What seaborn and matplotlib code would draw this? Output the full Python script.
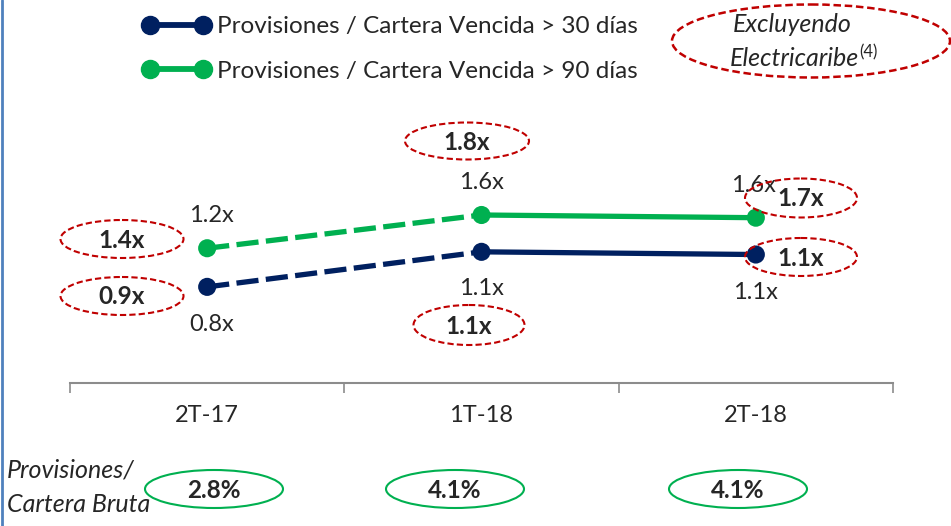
import pandas as pd
import matplotlib.pyplot as plt
import seaborn as sns
from matplotlib.patches import Ellipse
from matplotlib.lines import Line2D

# Datos
periodos = ['2T-17', '1T-18', '2T-18']
prov_30 = [0.76, 1.15, 1.12]
prov_90 = [1.19, 1.56, 1.53]
etiq_30 = ['0.8x', '1.1x', '1.1x']
etiq_90 = ['1.2x', '1.6x', '1.6x']
excl_30 = ['0.9x', '1.1x', '1.1x']
excl_90 = ['1.4x', '1.8x', '1.7x']
prov_bruta = ['2.8%', '4.1%', '4.1%']
series = ['Provisiones / Cartera Vencida > 30 días', 'Provisiones / Cartera Vencida > 90 días']

AZUL = '#002060'
VERDE = '#00B050'
ROJO = '#C00000'

sns.set_style('white')
plt.rcParams['font.family'] = ['Lato', 'DejaVu Sans']

fig = plt.figure(figsize=(9.51, 5.26), dpi=100)
ax = fig.add_axes([70 / 951, 1 - 383 / 526, 823 / 951, 283 / 526])

df = pd.DataFrame({'x': [0, 1, 2], 'p30': prov_30, 'p90': prov_90})
for col, color in [('p30', AZUL), ('p90', VERDE)]:
    # tramo punteado 2T-17 -> 1T-18, tramo solido 1T-18 -> 2T-18
    sns.lineplot(data=df.iloc[0:2], x='x', y=col, color=color, lw=3.8,
                 linestyle=(0, (4.2, 1.4)), ax=ax, zorder=2)
    sns.lineplot(data=df.iloc[1:3], x='x', y=col, color=color, lw=3.8, ax=ax, zorder=2)
    sns.scatterplot(data=df, x='x', y=col, color=color, s=170, edgecolor='none',
                    ax=ax, zorder=3, legend=False)

ax.set_xlim(-0.5, 2.5)
ax.set_ylim(-0.31, 2.84)
ax.set_xlabel('')
ax.set_ylabel('')
ax.set_yticks([])
ax.set_xticks([-0.5, 0.5, 1.5, 2.5])
ax.set_xticklabels([])
ax.tick_params(axis='x', direction='out', length=7, width=1.2, color='#8C8C8C', bottom=True)
for s in ['top', 'left', 'right']:
    ax.spines[s].set_visible(False)
ax.spines['bottom'].set_color('#8C8C8C')
ax.spines['bottom'].set_linewidth(1.5)
for i, p in enumerate(periodos):
    ax.annotate(p, (i, -0.31), xytext=(0, -33), textcoords='offset pixels',
                ha='center', va='center', fontsize=17)

# etiquetas de datos
offs_30 = [(4, -38), (0, -37), (0, -38)]
offs_90 = [(4, 33), (0, 32), (-2, 32)]
for i in range(3):
    ax.annotate(etiq_30[i], (i, prov_30[i]), xytext=offs_30[i], textcoords='offset pixels',
                ha='center', va='center', fontsize=17)
    ax.annotate(etiq_90[i], (i, prov_90[i]), xytext=offs_90[i], textcoords='offset pixels',
                ha='center', va='center', fontsize=17)

# leyenda
handles = [Line2D([], [], color=AZUL, lw=4.2, marker='o', markersize=13),
           Line2D([], [], color=VERDE, lw=4.2, marker='o', markersize=13)]
fig.legend(handles, series, loc='upper left', bbox_to_anchor=(143 / 951, 1 - 16 / 526),
           frameon=False, numpoints=2, handlelength=2.75, handletextpad=0.3,
           labelspacing=0.97, fontsize=17.5, borderaxespad=0, borderpad=0)

# capa de anotaciones en pixeles
ov = fig.add_axes([0, 0, 1, 1], zorder=5)
ov.set_xlim(0, 951)
ov.set_ylim(526, 0)
ov.axis('off')
ov.patch.set_alpha(0)
ov.plot([1.5, 1.5], [0, 526], color='#4F81BD', lw=2)


def ovalo(cx, cy, w, h, txt, color, ls):
    ov.add_patch(Ellipse((cx, cy), w, h, fill=False, edgecolor=color, lw=1.5, linestyle=ls))
    ov.text(cx, cy + 1, txt, ha='center', va='center', fontsize=17.5, fontweight='bold')


punteado = (0, (3, 1.5))
ovalo(122, 239, 123, 38, excl_90[0], ROJO, punteado)
ovalo(122, 296, 123, 38, excl_30[0], ROJO, punteado)
ovalo(467, 141, 124, 37, excl_90[1], ROJO, punteado)
ovalo(469, 325, 111, 40, excl_30[1], ROJO, punteado)
ovalo(801, 198, 112, 39, excl_90[2], ROJO, punteado)
ovalo(801, 257, 112, 38, excl_30[2], ROJO, punteado)

for cx, txt in zip([214, 455, 738], prov_bruta):
    ovalo(cx, 489, 138, 38, txt, VERDE, '-')

ov.add_patch(Ellipse((811, 41), 278, 73, fill=False, edgecolor=ROJO, lw=1.8, linestyle=punteado))
ov.text(792, 25, 'Excluyendo', ha='center', va='center', fontsize=18, style='italic')
ov.text(730, 59, 'Electricaribe', ha='left', va='center', fontsize=18, style='italic')
ov.text(859, 52, '(4)', ha='left', va='center', fontsize=12)

ov.text(7, 470, 'Provisiones/', ha='left', va='center', fontsize=18, style='italic')
ov.text(7, 505, 'Cartera Bruta', ha='left', va='center', fontsize=18, style='italic')

fig.savefig('out.png', dpi=100)
